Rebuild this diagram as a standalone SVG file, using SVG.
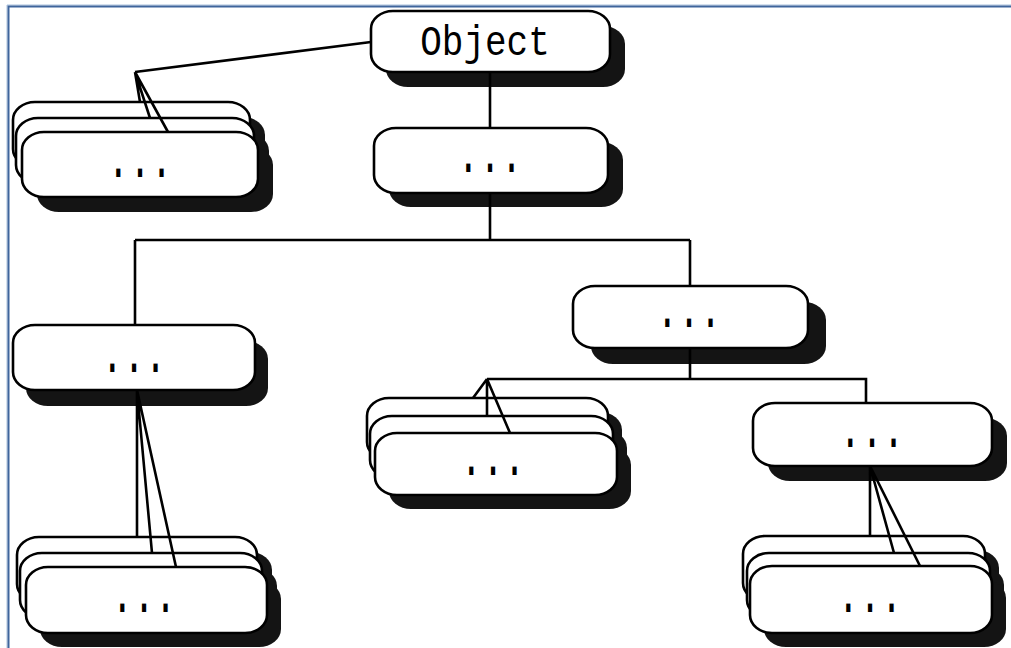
<svg xmlns="http://www.w3.org/2000/svg" width="1011" height="648" viewBox="0 0 1011 648">
<style>
.pill{fill:#fff;stroke:#000;stroke-width:2.6}
.sh{fill:#141414}
.ln{fill:none;stroke:#000;stroke-width:2.6}
.dots{font-family:"Liberation Mono",monospace;font-size:36px;fill:#000;text-anchor:middle}
.lbl{font-family:"Liberation Mono",monospace;font-size:36px;fill:#000;text-anchor:middle}
</style>
<rect width="1011" height="648" fill="#fff"/>
<path d="M7,648 V5 H1011" fill="none" stroke="#a9c0dc" stroke-width="1"/>
<path d="M8.5,648 V6.5 H1011" fill="none" stroke="#3f659c" stroke-width="2"/>

<g id="node-object">
<rect class="sh" x="386" y="26" width="239" height="61" rx="22" ry="18"/>
<rect class="pill" x="371" y="11" width="239" height="61" rx="22" ry="18"/>
<text class="lbl" transform="translate(485,55) scale(1,1.2)">Object</text>
</g>
<g id="node-b">
<rect class="sh" x="389" y="142" width="234" height="65" rx="22" ry="18"/>
<rect class="pill" x="374" y="128" width="234" height="65" rx="22" ry="18"/>
<text class="dots" transform="translate(490,172) scale(1,1.6)">...</text>
</g>
<g id="node-c">
<rect class="sh" x="28" y="117" width="237" height="65" rx="22" ry="18"/>
<rect class="pill" x="13" y="102" width="237" height="65" rx="22" ry="18"/>
<rect class="sh" x="31" y="133" width="238" height="65" rx="22" ry="18"/>
<rect class="pill" x="16" y="118" width="238" height="65" rx="22" ry="18"/>
<rect class="sh" x="37" y="147" width="236" height="65" rx="22" ry="18"/>
<rect class="pill" x="22" y="132" width="236" height="65" rx="22" ry="18"/>
<text class="dots" transform="translate(140,177) scale(1,1.6)">...</text>
</g>
<g id="node-d">
<rect class="sh" x="26" y="341" width="242" height="65" rx="22" ry="18"/>
<rect class="pill" x="13" y="325" width="242" height="65" rx="22" ry="18"/>
<text class="dots" transform="translate(134,372) scale(1,1.6)">...</text>
</g>
<g id="node-e">
<rect class="sh" x="32" y="552" width="240" height="65" rx="22" ry="18"/>
<rect class="pill" x="17" y="537" width="240" height="65" rx="22" ry="18"/>
<rect class="sh" x="35" y="568" width="242" height="65" rx="22" ry="18"/>
<rect class="pill" x="20" y="553" width="242" height="65" rx="22" ry="18"/>
<rect class="sh" x="40" y="581" width="241" height="66" rx="22" ry="18"/>
<rect class="pill" x="26" y="567" width="241" height="66" rx="22" ry="18"/>
<text class="dots" transform="translate(144,612) scale(1,1.6)">...</text>
</g>
<g id="node-f">
<rect class="sh" x="591" y="302" width="235" height="62" rx="22" ry="18"/>
<rect class="pill" x="573" y="286" width="235" height="62" rx="22" ry="18"/>
<text class="dots" transform="translate(689,327) scale(1,1.6)">...</text>
</g>
<g id="node-g">
<rect class="sh" x="381" y="412" width="241" height="62" rx="22" ry="18"/>
<rect class="pill" x="367" y="398" width="241" height="62" rx="22" ry="18"/>
<rect class="sh" x="384" y="430" width="243" height="62" rx="22" ry="18"/>
<rect class="pill" x="370" y="416" width="243" height="62" rx="22" ry="18"/>
<rect class="sh" x="389" y="447" width="242" height="62" rx="22" ry="18"/>
<rect class="pill" x="375" y="433" width="242" height="62" rx="22" ry="18"/>
<text class="dots" transform="translate(493,475) scale(1,1.6)">...</text>
</g>
<g id="node-h">
<rect class="sh" x="768" y="418" width="239" height="63" rx="22" ry="18"/>
<rect class="pill" x="753" y="403" width="239" height="63" rx="22" ry="18"/>
<text class="dots" transform="translate(872,447) scale(1,1.6)">...</text>
</g>
<g id="node-i">
<rect class="sh" x="757" y="550" width="242" height="65" rx="22" ry="18"/>
<rect class="pill" x="743" y="536" width="242" height="65" rx="22" ry="18"/>
<rect class="sh" x="761" y="567" width="243" height="65" rx="22" ry="18"/>
<rect class="pill" x="747" y="553" width="243" height="65" rx="22" ry="18"/>
<rect class="sh" x="764" y="580" width="242" height="67" rx="22" ry="18"/>
<rect class="pill" x="750" y="566" width="242" height="67" rx="22" ry="18"/>
<text class="dots" transform="translate(870,612) scale(1,1.6)">...</text>
</g>

<g id="connectors">
<path class="ln" d="M371,42 L135,72"/>
<path class="ln" d="M135,72 L140,102 M135,72 L150,118 M135,72 L168,132"/>
<path class="ln" d="M490,72 V128"/>
<path class="ln" d="M490,193 V240 M135,240 H690 M135,240 V325 M690,240 V286"/>
<path class="ln" d="M137,390 V537 M137,390 L152,553 M137,390 L176,567"/>
<path class="ln" d="M690,348 V379 M487,379 H866 V403"/>
<path class="ln" d="M487,379 L473,398 M487,379 V416 M487,379 L510,433"/>
<path class="ln" d="M870,466 V536 M870,466 L894,553 M870,466 L920,566"/>
</g>
</svg>
